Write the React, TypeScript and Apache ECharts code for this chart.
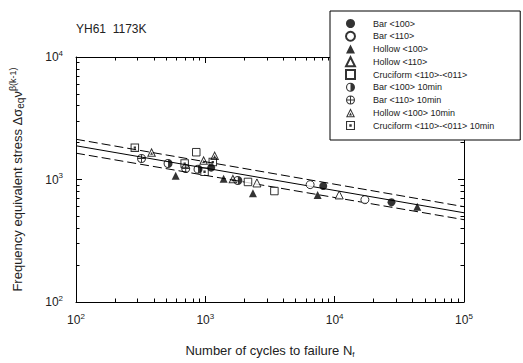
import React, { useEffect, useRef } from "react";
import * as echarts from "echarts";

// ---- data (N cycles, equivalent stress) ----
const barA = [[1110, 1250], [8160, 885], [27500, 651]];
const barB = [[6460, 908], [17130, 684]];
const hollowA = [[590, 1075], [1385, 1015], [2335, 771], [7380, 748], [43500, 599]];
const hollowB = [[2505, 937], [10840, 748]];
const cruci = [[851, 1670], [2137, 955], [3420, 805]];
const barA10 = [[515, 1352], [878, 1214], [1784, 982]];
const barB10 = [[321, 1483], [705, 1228]];
const hollowA10 = [[384, 1670], [970, 1436], [1180, 1573], [1633, 1015]];
const cruci10 = [[285, 1820], [692, 1350], [1142, 1388], [986, 1157]];

const fitMid = [[100, 1885], [100000, 535]];
const fitUp = [[100, 2130], [100000, 600]];
const fitLow = [[100, 1640], [100000, 470]];

const xMajor = [100, 1000, 10000, 100000];
const xMinor = [200, 300, 400, 500, 600, 700, 800, 900, 2000, 3000, 4000, 5000, 6000, 7000, 8000, 9000, 20000, 30000, 40000, 50000, 60000, 70000, 80000, 90000];
const yMajor = [100, 1000, 10000];
const yMinor = [200, 300, 400, 500, 600, 700, 800, 900, 2000, 3000, 4000, 5000, 6000, 7000, 8000, 9000];

const names = [
  "Bar <100>",
  "Bar <110>",
  "Hollow <100>",
  "Hollow <110>",
  "Cruciform <110>-<011>",
  "Bar <100> 10min",
  "Bar <110> 10min",
  "Hollow <100> 10min",
  "Cruciform <110>-<011> 10min",
];

// ---- symbol paths (20x20 box) ----
const HALF =
  "path://M10,0 A10,10 0 0,1 10,20 A10,10 0 0,1 10,0 Z M10,2.4 A7.6,7.6 0 0,0 10,17.6 Z";
const CPLUS =
  "path://M10,0 A10,10 0 0,1 10,20 A10,10 0 0,1 10,0 Z M10,2.4 A7.6,7.6 0 0,0 10,17.6 A7.6,7.6 0 0,0 10,2.4 Z M8.9,2.4 L11.1,2.4 L11.1,17.6 L8.9,17.6 Z M2.4,8.9 L17.6,8.9 L17.6,11.1 L2.4,11.1 Z";
const TRIDOT =
  "path://M10,0 L20,20 L0,20 Z M10,5.2 L3.7,17.6 L16.3,17.6 Z M10,9.3 L13.3,15.9 L6.7,15.9 Z";
const SQDOT =
  "path://M0,0 L20,0 L20,20 L0,20 Z M2.4,2.4 L2.4,17.6 L17.6,17.6 L17.6,2.4 Z M7.3,7.3 L12.7,7.3 L12.7,12.7 L7.3,12.7 Z";

const FONT = "Liberation Sans, Arial, Helvetica, sans-serif";
const TXT = "#222";

export default function App() {
  const ref = useRef<HTMLDivElement>(null);

  useEffect(() => {
    if (!ref.current) return;
    const chart = echarts.init(ref.current, null, { renderer: "svg" });

    const filled = { color: "#000", borderWidth: 0 };
    const open = { color: "#fff", borderColor: "#000", borderWidth: 1 };
    const mk = (name: string, data: number[][], symbol: string, style: any, size = 8) => ({
      name,
      type: "scatter",
      data,
      symbol,
      symbolSize: size,
      itemStyle: style,
      z: 5,
      xAxisIndex: 0,
      yAxisIndex: 0,
    });
    const ln = (data: number[][], type: any) => ({
      type: "line",
      data,
      symbol: "none",
      silent: true,
      z: 3,
      lineStyle: { color: "#000", width: 1, type },
      xAxisIndex: 0,
      yAxisIndex: 0,
    });

    const sup = { fontSize: 8, fontFamily: FONT, color: TXT, padding: [0, 0, 8, 0] };
    const base = { fontSize: 12, fontFamily: FONT, color: TXT };

    const axisCommon = (pos: string, major: boolean, vals: number[], labels: boolean, isX: boolean) => ({
      type: "log",
      logBase: 10,
      min: 100,
      max: isX ? 100000 : 10000,
      position: pos,
      axisLine: { show: major, lineStyle: { color: "#000", width: 1 } },
      axisTick: {
        show: true,
        inside: true,
        length: major ? 6 : 3.5,
        lineStyle: { color: "#000", width: 1 },
        customValues: vals,
      },
      axisLabel: labels
        ? {
            show: true,
            customValues: vals,
            margin: isX ? 10 : 13,
            formatter: (v: number) => `{b|10}{s|${Math.round(Math.log10(v))}}`,
            rich: { b: base, s: sup },
          }
        : { show: false },
      splitLine: { show: false },
      minorTick: { show: false },
    });

    const xAxes: any[] = [
      {
        ...axisCommon("bottom", true, xMajor, true, true),
        name: "{n|Number of cycles to failure N}{sub|f}",
        nameLocation: "middle",
        nameGap: 41,
        nameTextStyle: {
          rich: {
            n: { fontSize: 13, fontFamily: FONT, color: TXT },
            sub: { fontSize: 8, fontFamily: FONT, color: TXT, padding: [7, 0, 0, 0] },
          },
        },
      },
      axisCommon("bottom", false, xMinor, false, true),
      axisCommon("top", true, xMajor, false, true),
      axisCommon("top", false, xMinor, false, true),
    ];
    const yAxes: any[] = [
      {
        ...axisCommon("left", true, yMajor, true, false),
        name: "{n|Frequency equivalent stress Δσ}{sub|eq}{n|ν}{sup|β(k-1)}",
        nameLocation: "middle",
        nameGap: 50,
        nameTextStyle: {
          rich: {
            n: { fontSize: 13, fontFamily: FONT, color: TXT },
            sub: { fontSize: 10, fontFamily: FONT, color: TXT, padding: [7, 0, 0, 0] },
            sup: { fontSize: 9, fontFamily: FONT, color: TXT, padding: [0, 0, 9, 0] },
          },
        },
      },
      axisCommon("left", false, yMinor, false, false),
      axisCommon("right", true, yMajor, false, false),
      axisCommon("right", false, yMinor, false, false),
    ];

    chart.setOption({
      animation: false,
      backgroundColor: "#fff",
      title: {
        text: "YH61  1173K",
        left: 76,
        top: 23,
        padding: 0,
        textStyle: { fontSize: 12, fontWeight: "normal", fontFamily: FONT, color: TXT },
      },
      grid: { left: 76, right: 59, top: 57, bottom: 52, containLabel: false },
      xAxis: xAxes,
      yAxis: yAxes,
      legend: {
        data: names,
        orient: "vertical",
        left: 330,
        top: 11,
        padding: [7, 26, 9, 15],
        itemWidth: 9,
        itemHeight: 9,
        itemGap: 1.75,
        selectedMode: false,
        backgroundColor: "#fff",
        borderColor: "#000",
        borderWidth: 1,
        borderRadius: 0,
        textStyle: { fontSize: 9, lineHeight: 11, fontFamily: FONT, color: TXT, padding: [0, 0, 0, 13] },
        z: 10,
      },
      series: [
        ln(fitMid, "solid"),
        ln(fitUp, [9, 4]),
        ln(fitLow, [9, 4]),
        mk(names[0], barA, "circle", filled),
        mk(names[1], barB, "circle", open),
        mk(names[2], hollowA, "triangle", filled),
        mk(names[3], hollowB, "triangle", open),
        mk(names[4], cruci, "rect", open, 7.5),
        mk(names[5], barA10, HALF, filled, 9),
        mk(names[6], barB10, CPLUS, filled, 9),
        mk(names[7], hollowA10, TRIDOT, filled, 9),
        mk(names[8], cruci10, SQDOT, filled, 8.5),
      ],
    });

    return () => chart.dispose();
  }, []);

  return (
    <div
      ref={ref}
      style={{ position: "fixed", left: 0, top: 0, width: 523, height: 363, background: "#fff" }}
    />
  );
}
